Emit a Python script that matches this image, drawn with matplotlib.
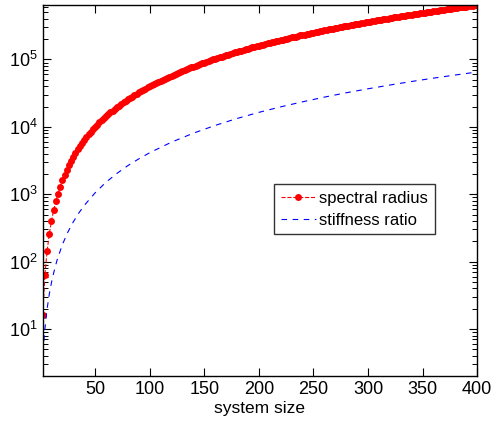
'''
Spectral radius and stiffness ratio against system size
'''
import numpy as np
import matplotlib
matplotlib.use("Agg")
import matplotlib.pyplot as plt
from matplotlib.ticker import LogLocator, NullFormatter

plt.rcParams['font.family'] = ['Liberation Sans', 'DejaVu Sans']
plt.rcParams['mathtext.fontset'] = 'custom'
plt.rcParams['mathtext.rm'] = 'Liberation Sans'
plt.rcParams['mathtext.it'] = 'Liberation Sans'

# spectral radius, one point every 2 (n = 2, 4, ..., 400)
n_rad = np.arange(2, 401, 2)
spectral_radius = [
    16, 64, 144, 256, 400, 576, 784, 1020, 1300, 1600,
    1940, 2300, 2700, 3140, 3600, 4100, 4620, 5180, 5780, 6400,
    7060, 7740, 8460, 9220, 10000, 10800, 11700, 12500, 13500, 14400,
    15400, 16400, 17400, 18500, 19600, 20700, 21900, 23100, 24300, 25600,
    26900, 28200, 29600, 31000, 32400, 33900, 35300, 36900, 38400, 40000,
    41600, 43300, 44900, 46700, 48400, 50200, 52000, 53800, 55700, 57600,
    59500, 61500, 63500, 65500, 67600, 69700, 71800, 74000, 76200, 78400,
    80700, 82900, 85300, 87600, 90000, 92400, 94900, 97300, 99900, 102000,
    105000, 108000, 110000, 113000, 116000, 118000, 121000, 124000, 127000, 130000,
    132000, 135000, 138000, 141000, 144000, 147000, 151000, 154000, 157000, 160000,
    163000, 166000, 170000, 173000, 176000, 180000, 183000, 187000, 190000, 194000,
    197000, 201000, 204000, 208000, 212000, 215000, 219000, 223000, 227000, 230000,
    234000, 238000, 242000, 246000, 250000, 254000, 258000, 262000, 266000, 270000,
    275000, 279000, 283000, 287000, 292000, 296000, 300000, 305000, 309000, 314000,
    318000, 323000, 327000, 332000, 336000, 341000, 346000, 350000, 355000, 360000,
    365000, 370000, 375000, 379000, 384000, 389000, 394000, 399000, 404000, 410000,
    415000, 420000, 425000, 430000, 436000, 441000, 446000, 452000, 457000, 462000,
    468000, 473000, 479000, 484000, 490000, 496000, 501000, 507000, 513000, 518000,
    524000, 530000, 536000, 542000, 548000, 553000, 560000, 566000, 572000, 578000,
    584000, 590000, 596000, 602000, 608000, 615000, 621000, 627000, 634000, 640000,
]

# stiffness ratio
n_stiff = [1, 2, 3, 4, 5, 6, 8, 10, 12, 15, 20, 25, 30, 35, 40, 50, 60, 70, 80, 90,
           100, 120, 140, 160, 180, 200, 220, 240, 260, 280, 300, 320, 340, 360, 380, 400]
stiffness_ratio = [1.0, 3.6, 6.5, 10, 14.6, 20, 33, 49, 68, 104, 179, 274, 389, 525, 681,
                   1050, 1510, 2040, 2660, 3350, 4130, 5930, 8050, 10500, 13300, 16400,
                   19800, 23500, 27600, 32000, 36700, 41700, 47100, 52800, 58800, 65100]

fig = plt.figure(figsize=(4.97, 4.26), dpi=100)
ax = fig.add_axes([0.086, 0.117, 0.874, 0.871])

ax.plot(n_rad, spectral_radius, color='red', linestyle='--', linewidth=0.8,
        marker='o', markersize=5, markeredgewidth=0, label='spectral radius')
ax.plot(n_stiff, stiffness_ratio, color='blue', linewidth=0.8,
        dashes=(5, 5), label='stiffness ratio')

ax.set_yscale('log')
ax.set_xlim(2, 400)
ax.set_ylim(2, 6.4e5)
ax.set_xticks(np.arange(50, 401, 50))
ax.yaxis.set_major_locator(LogLocator(base=10, numticks=10))
ax.yaxis.set_minor_locator(LogLocator(base=10, subs=np.arange(2, 10), numticks=20))
ax.yaxis.set_minor_formatter(NullFormatter())

ax.tick_params(which='both', direction='in', top=True, right=True, labelsize=13)
ax.tick_params(which='major', length=6, width=0.8)
ax.tick_params(which='minor', length=3.5, width=0.7)
for s in ax.spines.values():
    s.set_linewidth(1.0)

ax.set_xlabel('system size', fontsize=12.5, labelpad=2)

leg = ax.legend(loc='upper left', bbox_to_anchor=(0.533, 0.517), numpoints=1,
                fontsize=12, frameon=True, fancybox=False, handlelength=2.1,
                handletextpad=0.2, borderpad=0.4, labelspacing=0.4,
                borderaxespad=0)
leg.get_frame().set_edgecolor('black')
leg.get_frame().set_linewidth(1.0)

fig.savefig('out.png', dpi=100)
